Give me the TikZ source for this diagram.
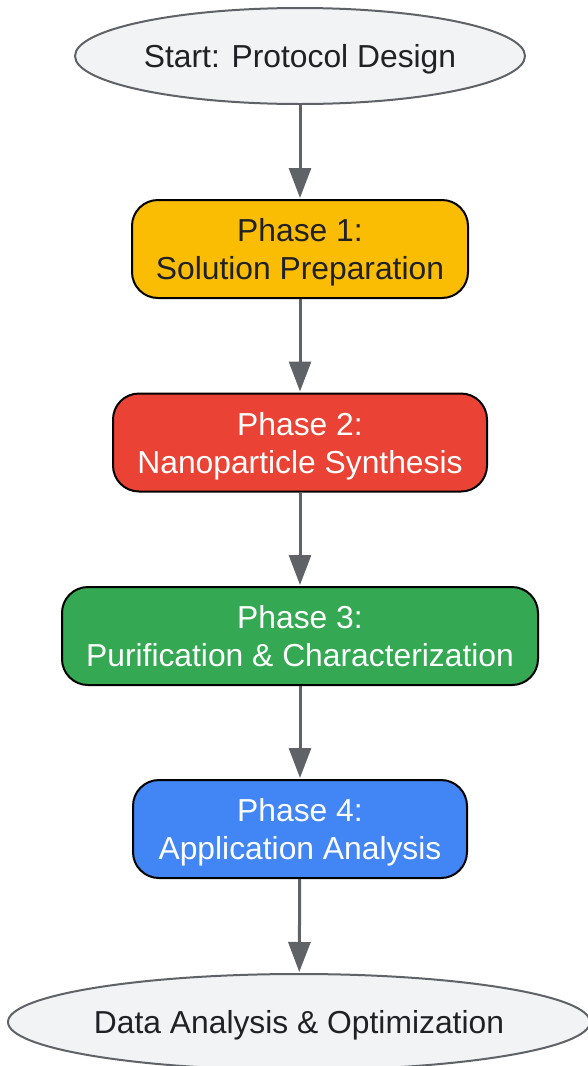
\documentclass[tikz,border=0pt]{standalone}
\usepackage{fontspec}
\setmainfont{Liberation Sans}
\usetikzlibrary{arrows.meta,shapes.geometric}
\definecolor{edgegray}{HTML}{5F6368}
\definecolor{termfill}{HTML}{F1F3F4}
\definecolor{txtdark}{HTML}{202124}
\definecolor{pyellow}{HTML}{FBBC04}
\definecolor{pred}{HTML}{EA4335}
\definecolor{pgreen}{HTML}{34A853}
\definecolor{pblue}{HTML}{4285F4}
\tikzset{
  terminal/.style={ellipse, draw=edgegray, line width=2pt, fill=termfill, text=txtdark, inner sep=0pt, text depth=0pt, font=\fontsize{31.8}{38}\selectfont},
  phasebox/.style={rectangle, rounded corners=26pt, draw=black, line width=2pt, inner sep=0pt, text depth=0pt, minimum height=98pt, align=center, font=\fontsize{31.8}{38}\selectfont},
  flow/.style={draw=edgegray, line width=3pt, -{Triangle[length=30pt,width=22pt]}, shorten >=1pt},
}
\begin{document}
\begin{tikzpicture}[x=1pt,y=-1pt]
\useasboundingbox (0,0) rectangle (588,1066);
\node[terminal, minimum width=450pt, minimum height=96pt] (start) at (300,56) {Start: Protocol Design};
\node[phasebox, fill=pyellow, text=txtdark, minimum width=336pt] (p1) at (300,249) {Phase 1:\\Solution Preparation};
\node[phasebox, fill=pred, text=white, minimum width=374pt] (p2) at (300,442.5) {Phase 2:\\Nanoparticle Synthesis};
\node[phasebox, fill=pgreen, text=white, minimum width=476pt] (p3) at (300,636) {Phase 3:\\Purification \& Characterization};
\node[phasebox, fill=pblue, text=white, minimum width=334pt] (p4) at (300,829) {Phase 4:\\Application Analysis};
\node[terminal, minimum width=582pt, minimum height=96pt] (end) at (299,1022) {Data Analysis \& Optimization};
\draw[flow] (start) -- (p1);
\draw[flow] (p1) -- (p2);
\draw[flow] (p2) -- (p3);
\draw[flow] (p3) -- (p4);
\draw[flow] (p4) -- (end);
\end{tikzpicture}
\end{document}
